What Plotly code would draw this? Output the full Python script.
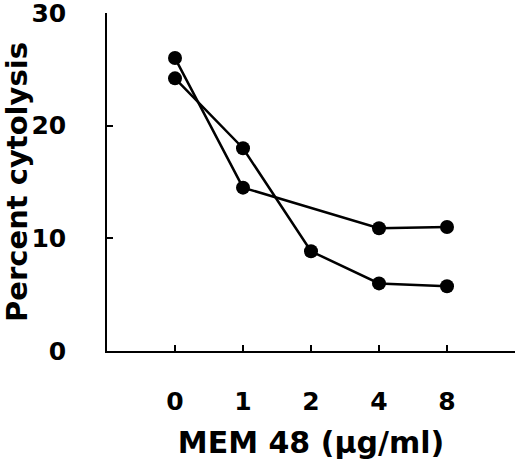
import plotly.graph_objects as go

# dose categories (evenly spaced on the axis)
doses = ["0", "1", "2", "4", "8"]
pos = [0, 1, 2, 3, 4]

# upper-start series has no point at dose 2
series_a_pos = [0, 1, 3, 4]
series_a = [26.0, 14.5, 10.9, 11.0]
series_b = [24.2, 18.0, 8.85, 6.0, 5.75]

fig = go.Figure()
for xs, ys in [(series_a_pos, series_a), (pos, series_b)]:
    fig.add_trace(go.Scatter(
        x=xs, y=ys, mode="lines+markers",
        line=dict(color="black", width=2.5),
        marker=dict(color="black", size=14),
        showlegend=False,
    ))

tickfont = dict(family="DejaVu Sans", size=25, color="black")

fig.update_layout(
    width=520, height=466,
    margin=dict(l=107, r=5, t=13, b=115),
    paper_bgcolor="white", plot_bgcolor="white",
    font=tickfont,
)
fig.update_xaxes(
    range=[-1, 5], tickvals=pos + [5], ticktext=[f"<b>{d}</b>" for d in doses] + [""],
    showline=True, linecolor="black", linewidth=1.5,
    ticks="inside", ticklen=6, tickwidth=1.5, tickcolor="black",
    showgrid=False, zeroline=False, ticklabelstandoff=27,
    automargin=False, tickfont=tickfont,
    title=dict(text="<b>MEM 48 (µg/ml)</b>", standoff=17,
               font=dict(family="DejaVu Sans", size=30, color="black")),
)
fig.update_yaxes(
    range=[0, 30], tickvals=[0, 10, 20, 30], ticktext=["<b>0</b>", "<b>10</b>", "<b>20</b>", "<b>30</b>"],
    showline=True, linecolor="black", linewidth=1.5,
    ticks="inside", ticklen=6, tickwidth=1.5, tickcolor="black",
    showgrid=False, zeroline=False, ticklabelstandoff=34,
    ticklabeloverflow="allow", automargin=False, tickfont=tickfont,
    title=dict(text="<b>Percent cytolysis</b>", standoff=8,
               font=dict(family="DejaVu Sans", size=29, color="black")),
)

# drop the page's default body margin so the figure sits at the window corner
fig.write_html("out.html", config={"displayModeBar": False},
               post_script="document.body.style.margin='0';")
